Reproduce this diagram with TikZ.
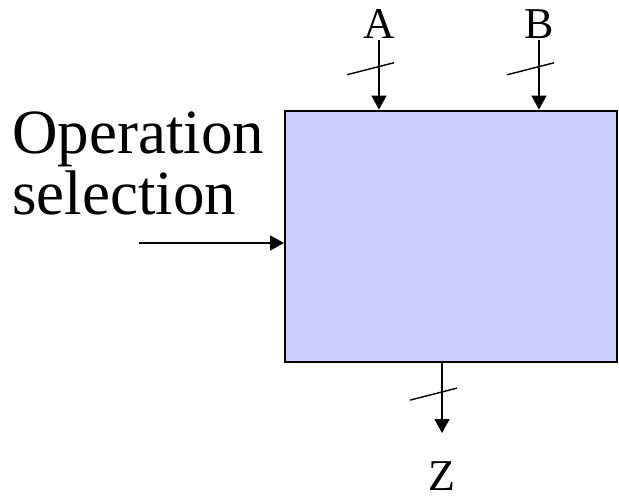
\documentclass[tikz,border=0pt]{standalone}
\usepackage{fontspec}
\setmainfont{Liberation Serif}
\usetikzlibrary{positioning,arrows.meta,calc}
\definecolor{alufill}{HTML}{CCCCFF}

\begin{document}
\begin{tikzpicture}[x=1pt, y=-1pt,
  every node/.style={inner sep=0pt},
  wire/.style={line width=1.6pt, -{Triangle[length=14pt,width=15pt]}},
  busmark/.style={line width=1.4pt},
  pinlabel/.style={font=\fontsize{44}{44}\selectfont, anchor=base}]
  \useasboundingbox (0,0) rectangle (619,501);
  % the unit itself
  \node[draw, line width=2pt, fill=alufill, minimum width=332pt, minimum height=251pt] (alu) at (451,236) {};
  % operands and result
  \node[pinlabel] (a) at (379,38) {A};
  \node[pinlabel] (b) at (539,38) {B};
  \node[pinlabel] (z) at (442,490) {Z};
  \coordinate (zend) at (442,433);
  \draw[wire] ([yshift=-2pt]a.south) -- (a.south |- alu.north);
  \draw[wire] ([yshift=-2pt]b.south) -- (b.south |- alu.north);
  \draw[wire] (zend |- alu.south) -- (zend);
  \draw[busmark] ($(a.south)!0.4!(a.south |- alu.north)$) ++(-32,8) -- ++(47,-12);
  \draw[busmark] ($(b.south)!0.4!(b.south |- alu.north)$) ++(-32,8) -- ++(47,-12);
  \draw[busmark] ($(zend |- alu.south)!0.42!(zend)$) ++(-32,8) -- ++(47,-12);
  % control input
  \node[font=\fontsize{63}{61}\selectfont, align=left, anchor=north west] (opsel) at (12,112) {Operation\\selection};
  \coordinate (opin) at (139,243);
  \draw[wire] (opin) -- (opin -| alu.west);
\end{tikzpicture}
\end{document}
